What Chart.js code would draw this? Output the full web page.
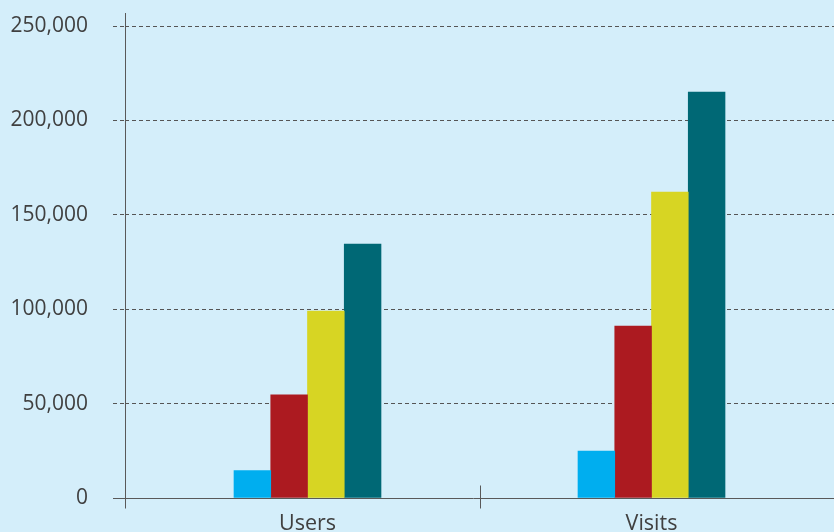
<!DOCTYPE html>
<html>
<head>
<meta charset="utf-8">
<script src="https://cdn.jsdelivr.net/npm/chart.js@4"></script>
<style>
  html, body { margin: 0; padding: 0; background: #d4eefa; }
  #wrap { width: 834px; height: 532px; }
</style>
</head>
<body>
<div id="wrap"><canvas id="barChart"></canvas></div>
<script>
var categories = ['Users', 'Visits'];
var serie1 = [14500, 24900];
var serie2 = [54600, 91100];
var serie3 = [99000, 162100];
var serie4 = [134500, 215000];
var yTicks = [0, 50000, 100000, 150000, 200000, 250000];

var axisColor = '#595959';

// draws the solid axis lines (a bit longer than the chart area) and the divider tick
const axisLines = {
    id: 'axisLines',
    afterDatasetsDraw(chart) {
        const ctx = chart.ctx;
        const a = chart.chartArea;
        const x = chart.scales.x;
        ctx.save();
        ctx.strokeStyle = axisColor;
        ctx.lineWidth = 1;
        ctx.beginPath();
        const lx = Math.round(a.left) + 0.5;
        const by = Math.round(a.bottom) + 0.5;
        ctx.moveTo(lx, a.top - 13);
        ctx.lineTo(lx, by + 10);
        ctx.moveTo(a.left - 12, by);
        ctx.lineTo(a.right, by);
        for (let i = 1; i < categories.length; i++) {
            const dx = Math.round(x.getPixelForValue(i + 0.5)) + 0.5;
            ctx.moveTo(dx, by - 13);
            ctx.lineTo(dx, by + 10);
        }
        ctx.stroke();
        ctx.restore();
    }
};

const ctx = document.getElementById('barChart').getContext('2d');
const myChart = new Chart(ctx, {
    type: 'bar',
    data: {
        datasets: [
            { label: 'Serie 1', backgroundColor: '#00aeef', data: serie1.map((v, i) => ({ x: i + 1, y: v })) },
            { label: 'Serie 2', backgroundColor: '#ac1a20', data: serie2.map((v, i) => ({ x: i + 1, y: v })) },
            { label: 'Serie 3', backgroundColor: '#d7d523', data: serie3.map((v, i) => ({ x: i + 1, y: v })) },
            { label: 'Serie 4', backgroundColor: '#006875', data: serie4.map((v, i) => ({ x: i + 1, y: v })) }
        ]
    },
    options: {
        responsive: true,
        maintainAspectRatio: false,
        animation: false,
        barThickness: 36.75,
        layout: { padding: { top: 26, right: 0, left: 0, bottom: 0 } },
        plugins: {
            legend: { display: false },
            tooltip: { enabled: false }
        },
        scales: {
            x: {
                type: 'linear',
                offset: false,
                min: 0.4695,
                max: 2.5305,
                afterBuildTicks: function(scale) {
                    scale.ticks = categories.map((c, i) => ({ value: i + 1 }));
                },
                afterFit: function(scale) { scale.height = 34; },
                grid: { display: false, drawTicks: false },
                border: { display: false },
                ticks: {
                    padding: 13,
                    maxRotation: 0,
                    autoSkip: false,
                    color: '#404040',
                    font: { family: 'Open Sans', size: 21.5 },
                    callback: function(v) { return categories[v - 1] || ''; }
                }
            },
            y: {
                min: 0,
                max: 250000,
                afterBuildTicks: function(scale) {
                    scale.ticks = yTicks.map(v => ({ value: v }));
                },
                afterFit: function(scale) {
                    scale.width = 125;
                    scale.paddingTop = 0;
                    scale.paddingBottom = 0;
                },
                grid: {
                    color: '#555555',
                    tickLength: 12,
                    tickBorderDash: [4, 3]
                },
                border: { display: false, dash: [4, 3] },
                ticks: {
                    padding: 25,
                    color: '#404040',
                    font: { family: 'Open Sans', size: 21 },
                    callback: function(v) { return v.toLocaleString('en-US'); }
                }
            }
        }
    },
    plugins: [axisLines]
});
</script>
</body>
</html>
